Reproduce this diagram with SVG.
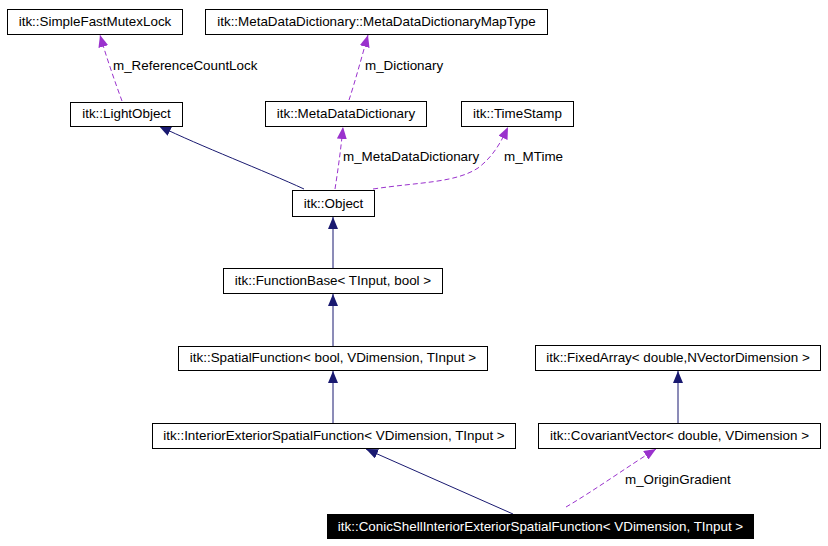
<svg xmlns="http://www.w3.org/2000/svg" width="828" height="546" viewBox="0 0 828 546">
<style>
.box{fill:#fff;stroke:#000;stroke-width:1}
.sel{fill:#000;stroke:#000;stroke-width:1}
text{font-family:"Liberation Sans",Arial,sans-serif;font-size:13.4px;fill:#000}
.n text{text-anchor:middle}
.w{fill:#fff}
.inh{fill:none;stroke:#191970;stroke-width:1}
.use{fill:none;stroke:#9a32cd;stroke-width:1;stroke-dasharray:5,3}
</style>
<defs>
<marker id="an" markerUnits="userSpaceOnUse" markerWidth="12" markerHeight="10" refX="12" refY="5" orient="auto">
<path d="M0,0 L12,5 L0,10 z" fill="#191970"/>
</marker>
<marker id="ap" markerUnits="userSpaceOnUse" markerWidth="12" markerHeight="10" refX="12" refY="5" orient="auto">
<path d="M0,0 L12,5 L0,10 z" fill="#9a32cd"/>
</marker>
</defs>
<g id="connectors">
<path class="use" d="M122,101 C115,82 106,56 100,35" marker-end="url(#ap)"/>
<text x="113" y="70">m_ReferenceCountLock</text>
<path class="use" d="M349,100 C355,82 362,56 368,35" marker-end="url(#ap)"/>
<text x="365" y="70">m_Dictionary</text>
<path class="inh" d="M304,189 C265,171 200,146 159,126" marker-end="url(#an)"/>
<path class="use" d="M335,189 C338,170 341,148 343,127" marker-end="url(#ap)"/>
<text x="343" y="161">m_MetaDataDictionary</text>
<path class="use" d="M373,189 C420,182 455,183 478,168 C494,156 502,140 508,127" marker-end="url(#ap)"/>
<text x="504" y="161">m_MTime</text>
<path class="inh" d="M333,268 L333,217" marker-end="url(#an)"/>
<path class="inh" d="M333,346 L333,294" marker-end="url(#an)"/>
<path class="inh" d="M333,423 L333,371" marker-end="url(#an)"/>
<path class="inh" d="M678,423 L678,371" marker-end="url(#an)"/>
<path class="inh" d="M513,514 L366,449" marker-end="url(#an)"/>
<path class="use" d="M566,507 C595,490 630,465 656,449" marker-end="url(#ap)"/>
<text x="625" y="484">m_OriginGradient</text>
</g>
<g id="SimpleFastMutexLock" class="n"><rect class="box" x="7.5" y="9.5" width="175" height="25"/><text x="95" y="26">itk::SimpleFastMutexLock</text></g>
<g id="MetaDataDictionaryMapType" class="n"><rect class="box" x="205.5" y="9.5" width="342" height="25"/><text x="376.5" y="26">itk::MetaDataDictionary::MetaDataDictionaryMapType</text></g>
<g id="LightObject" class="n"><rect class="box" x="70.5" y="102.5" width="112" height="24"/><text x="126.5" y="118">itk::LightObject</text></g>
<g id="MetaDataDictionary" class="n"><rect class="box" x="265.5" y="101.5" width="161" height="25"/><text x="346" y="118">itk::MetaDataDictionary</text></g>
<g id="TimeStamp" class="n"><rect class="box" x="461.5" y="101.5" width="112" height="25"/><text x="517.5" y="118">itk::TimeStamp</text></g>
<g id="Object" class="n"><rect class="box" x="292.5" y="190.5" width="82" height="26"/><text x="333.5" y="208">itk::Object</text></g>
<g id="FunctionBase" class="n"><rect class="box" x="223.5" y="268.5" width="219" height="25"/><text x="333" y="285">itk::FunctionBase&lt; TInput, bool &gt;</text></g>
<g id="SpatialFunction" class="n"><rect class="box" x="178.5" y="346.5" width="309" height="24"/><text x="333" y="362">itk::SpatialFunction&lt; bool, VDimension, TInput &gt;</text></g>
<g id="InteriorExteriorSpatialFunction" class="n"><rect class="box" x="152.5" y="423.5" width="363" height="25"/><text x="334" y="440">itk::InteriorExteriorSpatialFunction&lt; VDimension, TInput &gt;</text></g>
<g id="FixedArray" class="n"><rect class="box" x="535.5" y="345.5" width="285" height="25"/><text x="678" y="362">itk::FixedArray&lt; double,NVectorDimension &gt;</text></g>
<g id="CovariantVector" class="n"><rect class="box" x="538.5" y="423.5" width="282" height="25"/><text x="679.5" y="440">itk::CovariantVector&lt; double, VDimension &gt;</text></g>
<g id="ConicShellInteriorExteriorSpatialFunction" class="n"><rect class="sel" x="327.5" y="514.5" width="426" height="24"/><text class="w" x="540.5" y="531">itk::ConicShellInteriorExteriorSpatialFunction&lt; VDimension, TInput &gt;</text></g>
</svg>
